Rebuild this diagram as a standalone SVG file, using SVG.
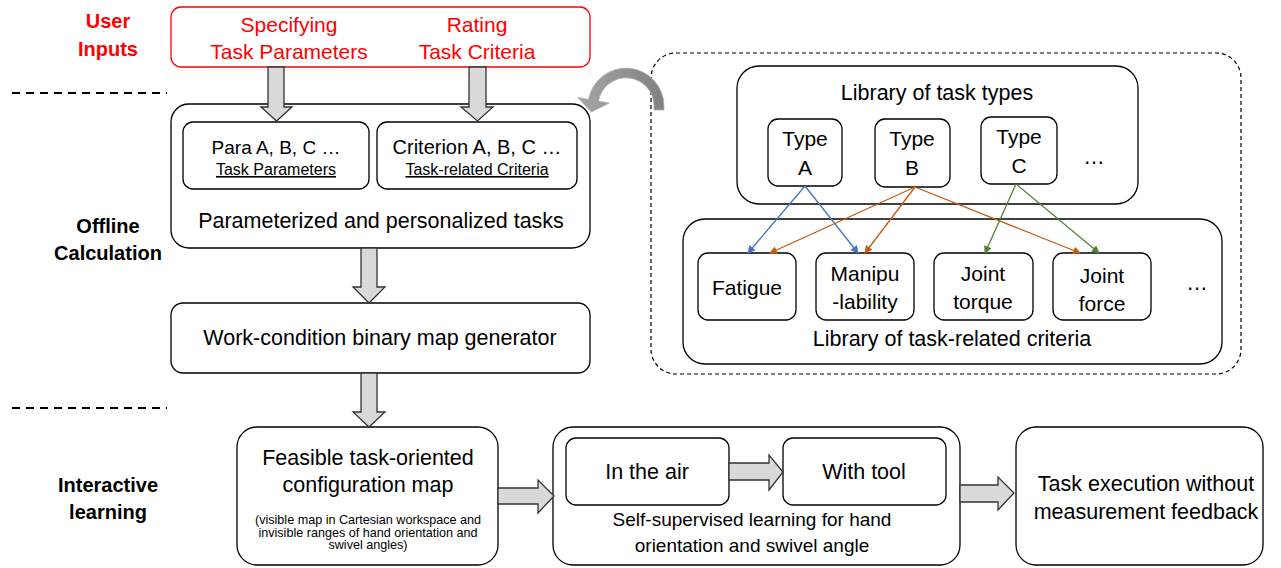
<svg xmlns="http://www.w3.org/2000/svg" width="1281" height="568" viewBox="0 0 1281 568">
<defs>
<style>
.t{font-family:"Liberation Sans",Arial,sans-serif;fill:#000;text-anchor:middle}
.f20{font-size:21.5px}
.f21{font-size:21px}
.f19{font-size:19px}
.f15{font-size:16px}
.f17{font-size:19px}
.f12{font-size:12.6px}
.lbl{font-family:"Liberation Sans",Arial,sans-serif;font-weight:bold;font-size:20px;text-anchor:middle}
.red{fill:#ff0000}
.box{fill:#fff;stroke:#000;stroke-width:1.3}
.ba{fill:#d9d9d9;stroke:#333;stroke-width:1.3;stroke-linejoin:miter}
.sep{stroke:#000;stroke-width:2;stroke-dasharray:8 6}
.cb{stroke:#4472c4;stroke-width:1.3;fill:none}
.co{stroke:#c55a11;stroke-width:1.3;fill:none}
.cg{stroke:#548235;stroke-width:1.3;fill:none}
</style>
<marker id="mb" markerWidth="8" markerHeight="8" refX="7" refY="4" orient="auto" markerUnits="userSpaceOnUse"><path d="M0,0 L8,4 L0,8 Z" fill="#4472c4"/></marker>
<marker id="mo" markerWidth="8" markerHeight="8" refX="7" refY="4" orient="auto" markerUnits="userSpaceOnUse"><path d="M0,0 L8,4 L0,8 Z" fill="#c55a11"/></marker>
<marker id="mg" markerWidth="8" markerHeight="8" refX="7" refY="4" orient="auto" markerUnits="userSpaceOnUse"><path d="M0,0 L8,4 L0,8 Z" fill="#548235"/></marker>
<linearGradient id="gg" x1="0" y1="0" x2="1" y2="0"><stop offset="0" stop-color="#a6a6a6"/><stop offset="1" stop-color="#808080"/></linearGradient>
</defs>
<rect width="1281" height="568" fill="#fff"/>

<g id="stage-labels">
<text class="lbl red" x="108" y="28">User</text>
<text class="lbl red" x="108" y="56">Inputs</text>
<text class="lbl" x="108" y="233">Offline</text>
<text class="lbl" x="108" y="260">Calculation</text>
<text class="lbl" x="108" y="492">Interactive</text>
<text class="lbl" x="108" y="519">learning</text>
<line class="sep" x1="12" y1="93" x2="167" y2="93"/>
<line class="sep" x1="12" y1="408" x2="167" y2="408"/>
</g>

<g id="user-inputs">
<rect x="171" y="7" width="419" height="60" rx="10" fill="#fff" stroke="#ff0000" stroke-width="1.3"/>
<text class="t f21 red" x="289" y="32">Specifying</text>
<text class="t f21 red" x="289" y="59">Task Parameters</text>
<text class="t f21 red" x="477" y="32">Rating</text>
<text class="t f21 red" x="477" y="59">Task Criteria</text>
</g>

<g id="personalized-tasks">
<rect class="box" x="171" y="104" width="419" height="144" rx="18"/>
<text class="t f20" x="381" y="228">Parameterized and personalized tasks</text>
</g>
<g id="task-parameters">
<rect class="box" x="183" y="122" width="186" height="67" rx="10"/>
<text class="t f19" x="276" y="154">Para A, B, C …</text>
<text class="t f15" x="276" y="175" text-decoration="underline">Task Parameters</text>
</g>
<g id="task-criteria">
<rect class="box" x="377" y="122" width="200" height="67" rx="10"/>
<text class="t" style="font-size:20px" x="477" y="154">Criterion A, B, C …</text>
<text class="t f15" x="477" y="175" text-decoration="underline">Task-related Criteria</text>
</g>

<g id="map-generator">
<rect class="box" x="171" y="303" width="419" height="70" rx="12"/>
<text class="t f20" x="380" y="345">Work-condition binary map generator</text>
</g>

<g id="feasible-map">
<rect class="box" x="237" y="427" width="261" height="138" rx="20"/>
<text class="t f20" x="368" y="465">Feasible task-oriented</text>
<text class="t f20" x="368" y="492">configuration map</text>
<text class="t f12" x="368" y="524">(visible map in Cartesian workspace and</text>
<text class="t f12" x="368" y="536.5">invisible ranges of hand orientation and</text>
<text class="t f12" x="368" y="549">swivel angles)</text>
</g>

<g id="self-supervised">
<rect class="box" x="553" y="427" width="407" height="138" rx="20"/>
<text class="t f17" x="752" y="526">Self-supervised learning for hand</text>
<text class="t f17" x="752" y="552">orientation and swivel angle</text>
</g>
<g id="in-the-air">
<rect class="box" x="566" y="438" width="163" height="67" rx="10"/>
<text class="t f20" x="647" y="479">In the air</text>
</g>
<g id="with-tool">
<rect class="box" x="783" y="438" width="163" height="67" rx="10"/>
<text class="t f20" x="864" y="479">With tool</text>
</g>

<g id="task-execution">
<rect class="box" x="1016" y="427" width="247" height="138" rx="20"/>
<text class="t f20" x="1146" y="491">Task execution without</text>
<text class="t f20" x="1146" y="519">measurement feedback</text>
</g>

<g id="libraries">
<rect x="651" y="53" width="590" height="321" rx="25" fill="none" stroke="#000" stroke-width="1.2" stroke-dasharray="4 3"/>
</g>
<g id="lib-task-types">
<rect class="box" x="737" y="66" width="401" height="138" rx="22"/>
<text class="t f20" x="937" y="100">Library of task types</text>
<text class="t f20" x="1094" y="164">…</text>
</g>
<g id="type-a">
<rect class="box" x="768" y="119" width="74" height="67" rx="10"/>
<text class="t f21" x="805" y="146">Type</text>
<text class="t f21" x="805" y="175">A</text>
</g>
<g id="type-b">
<rect class="box" x="875" y="119" width="75" height="68" rx="10"/>
<text class="t f21" x="912" y="146">Type</text>
<text class="t f21" x="912" y="175">B</text>
</g>
<g id="type-c">
<rect class="box" x="981" y="117" width="76" height="67" rx="10"/>
<text class="t f21" x="1019" y="144">Type</text>
<text class="t f21" x="1019" y="173">C</text>
</g>
<g id="lib-criteria">
<rect class="box" x="683" y="219" width="539" height="145" rx="22"/>
<text class="t f20" x="952" y="346">Library of task-related criteria</text>
<text class="t f20" x="1197" y="290">…</text>
</g>
<g id="fatigue">
<rect class="box" x="698" y="253" width="98" height="67" rx="10"/>
<text class="t f21" x="747" y="295">Fatigue</text>
</g>
<g id="manipulability">
<rect class="box" x="816" y="253" width="98" height="67" rx="10"/>
<text class="t f21" x="865" y="281">Manipu</text>
<text class="t f21" x="865" y="309">-lability</text>
</g>
<g id="joint-torque">
<rect class="box" x="934" y="253" width="99" height="67" rx="10"/>
<text class="t f21" x="983" y="281">Joint</text>
<text class="t f21" x="983" y="309">torque</text>
</g>
<g id="joint-force">
<rect class="box" x="1053" y="253" width="98" height="67" rx="10"/>
<text class="t f21" x="1102" y="283">Joint</text>
<text class="t f21" x="1102" y="311">force</text>
</g>

<g id="connectors">
<path class="ba" d="M268,67 V107 H261 L276.5,121 L292,107 H284 V67 Z"/>
<path class="ba" d="M469,67 V107 H461 L477.5,121 L493,107 H486 V67 Z"/>
<path class="ba" d="M361,248 V287 H353 L369,303 L385,287 H377 V248 Z"/>
<path class="ba" d="M361,373 V412 H353 L369,427 L385,412 H377 V373 Z"/>
<path class="ba" d="M498,488 H538 V480 L554,496 L538,513 V504 H498 Z"/>
<path class="ba" d="M729,463 H769 V455 L783,472 L769,490 V480 H729 Z"/>
<path class="ba" d="M960,485 H998 V477 L1014,493 L998,510 V502 H960 Z"/>
<path d="M664,110 L664,106 A38,38 0 0,0 588.6,99.4 L577.7,97.5 L591.4,112 L609.3,103.1 L598.4,101.1 A28,28 0 0,1 654,106 L654,110 Z" fill="url(#gg)" stroke="#b0b0b0" stroke-width="0.8"/>
<line class="cb" x1="805" y1="186" x2="748" y2="253" marker-end="url(#mb)"/>
<line class="cb" x1="805" y1="186" x2="858" y2="253" marker-end="url(#mb)"/>
<line class="co" x1="915" y1="187" x2="770" y2="253" marker-end="url(#mo)"/>
<line class="co" x1="915" y1="187" x2="865" y2="253" marker-end="url(#mo)"/>
<line class="co" x1="915" y1="187" x2="1080" y2="253" marker-end="url(#mo)"/>
<line class="cg" x1="1016" y1="184" x2="985" y2="253" marker-end="url(#mg)"/>
<line class="cg" x1="1016" y1="184" x2="1099" y2="253" marker-end="url(#mg)"/>
</g>
</svg>
